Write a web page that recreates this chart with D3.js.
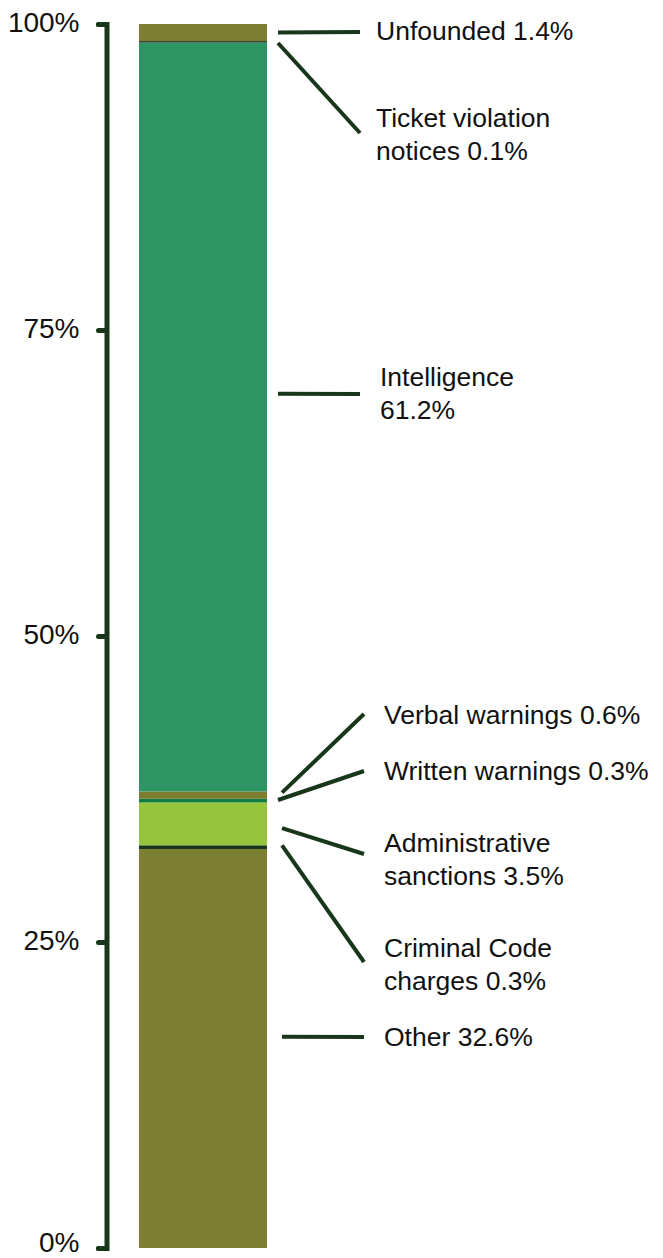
<!DOCTYPE html>
<html>
<head>
<meta charset="utf-8">
<script src="https://cdn.jsdelivr.net/npm/d3@7"></script>
<style>
  html, body { margin: 0; padding: 0; background: #ffffff; }
  svg { display: block; }
  text { font-family: "Liberation Sans", Arial, sans-serif; fill: #111; }
</style>
</head>
<body>
<svg id="chart" width="663" height="1258"></svg>
<script>
// Outcome shares, stacked from the bottom of the bar upward
const categories = [
  "Other",
  "Criminal Code charges",
  "Administrative sanctions",
  "Written warnings",
  "Verbal warnings",
  "Intelligence",
  "Ticket violation notices",
  "Unfounded"
];
const values = [32.6, 0.3, 3.5, 0.3, 0.6, 61.2, 0.1, 1.4];
const tickValues = [0, 25, 50, 75, 100];
const tickLabels = ["0%", "25%", "50%", "75%", "100%"];

// Segment fills
const colors = ["#7c7e33", "#16331b", "#97c43d", "#0f7d40", "#7c7e33", "#2f9565", "#161616", "#7c7e33"];

// Callout layout: anchor y on the bar (in % units), leader end, text block
const callouts = [
  { anchor: 17.25, x0: 282, x1: 364, endY: 1037, tx: 384, ty: 1037, firstWords: 99 },
  { anchor: 32.9,  x0: 282, x1: 364, endY: 962,  tx: 384, ty: 948,  firstWords: 2 },
  { anchor: 34.3,  x0: 282, x1: 364, endY: 854,  tx: 384, ty: 843,  firstWords: 1 },
  { anchor: 36.6,  x0: 278, x1: 364, endY: 771,  tx: 384, ty: 771,  firstWords: 99 },
  { anchor: 37.2,  x0: 282, x1: 364, endY: 714,  tx: 384, ty: 715,  firstWords: 99 },
  { anchor: 69.8,  x0: 278, x1: 360, endY: 394,  tx: 380, ty: 377,  firstWords: 1 },
  { anchor: 98.45, x0: 278, x1: 360, endY: 133,  tx: 376, ty: 118,  firstWords: 2 },
  { anchor: 99.3,  x0: 278, x1: 360, endY: 32,   tx: 376, ty: 31,   firstWords: 99 }
];

const svg = d3.select("#chart");
const y = d3.scaleLinear().domain([0, 100]).range([1248, 24]);
const barX = 139, barW = 128;
const ink = "#17361a";

// Stack the segments
let acc = 0;
const segs = values.map((v, i) => {
  const s = { cat: categories[i], v, y0: acc, y1: acc + v, color: colors[i] };
  acc += v;
  return s;
});

svg.append("g").selectAll("rect").data(segs).join("rect")
  .attr("x", barX)
  .attr("width", barW)
  .attr("y", d => y(d.y1))
  .attr("height", d => y(d.y0) - y(d.y1))
  .attr("fill", d => d.color);

// Axis
const axis = d3.axisLeft(y)
  .tickValues(tickValues)
  .tickFormat((d, i) => tickLabels[i])
  .tickSize(8)
  .tickPadding(19);

const gAxis = svg.append("g")
  .attr("transform", "translate(106.5,0)")
  .call(axis);

gAxis.select(".domain")
  .attr("stroke", ink)
  .attr("stroke-width", 5)
  .attr("stroke-linecap", "round")
  .attr("stroke-linejoin", "miter");
gAxis.selectAll(".tick line")
  .attr("stroke", ink)
  .attr("stroke-width", 5)
  .attr("stroke-linecap", "round");
// Bottom label sits a little higher so it stays inside the frame
gAxis.selectAll(".tick text")
  .attr("font-family", "'Liberation Sans', Arial, sans-serif")
  .attr("font-size", 28)
  .attr("dy", d => d === 0 ? 3.5 : 7)
  .attr("fill", "#111");

// Callouts: leader line plus label built from the same values
const fmt = d3.format(".1f");
const gCall = svg.append("g");
segs.forEach((s, i) => {
  const c = callouts[i];
  gCall.append("line")
    .attr("x1", c.x0).attr("y1", y(c.anchor))
    .attr("x2", c.x1).attr("y2", c.endY)
    .attr("stroke", ink)
    .attr("stroke-width", 4);

  const words = `${s.cat} ${fmt(s.v)}%`.split(" ");
  const lines = c.firstWords >= words.length
    ? [words.join(" ")]
    : [words.slice(0, c.firstWords).join(" "), words.slice(c.firstWords).join(" ")];

  const t = gCall.append("text")
    .attr("x", c.tx)
    .attr("y", c.ty)
    .attr("font-size", 26.5);
  lines.forEach((ln, k) => {
    t.append("tspan")
      .attr("x", c.tx)
      .attr("dy", k === 0 ? "0.35em" : 33)
      .text(ln);
  });
});
</script>
</body>
</html>
